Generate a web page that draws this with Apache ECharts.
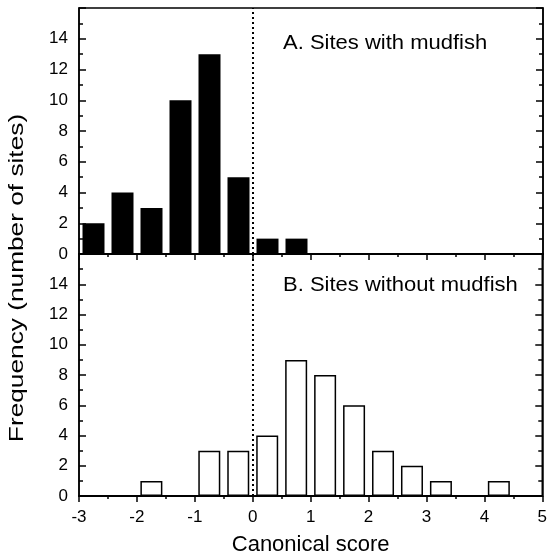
<!DOCTYPE html>
<html>
<head>
<meta charset="utf-8">
<script src="https://cdn.jsdelivr.net/npm/echarts@6/dist/echarts.min.js"></script>
<style>html,body{margin:0;padding:0;background:#fff;}#c{width:550px;height:557px;}</style>
</head>
<body>
<div id="c"></div>
<script>
const topCenters = [-2.75, -2.25, -1.75, -1.25, -0.75, -0.25, 0.25, 0.75];
const topValues = [2, 4, 3, 10, 13, 5, 1, 1];
const botCenters = [-1.75, -0.75, -0.25, 0.25, 0.75, 1.25, 1.75, 2.25, 2.75, 3.25, 4.25];
const botValues = [1, 3, 3, 4, 9, 8, 6, 3, 2, 1, 1];
const yTicks = [0, 2, 4, 6, 8, 10, 12, 14];
const xTicks = [-3, -2, -1, 0, 1, 2, 3, 4, 5];
const panelA = 'A. Sites with mudfish';
const panelB = 'B. Sites without mudfish';
const yTitle = 'Frequency (number of sites)';
const xTitle = 'Canonical score';

const FONT = "'Liberation Sans', Arial, Helvetica, sans-serif";
const chart = echarts.init(document.getElementById('c'));

function xAx(gi, withLabels) {
  return {
    type: 'value', gridIndex: gi, min: -3, max: 5, interval: 1, position: 'bottom',
    axisLine: { show: true, onZero: false, lineStyle: { color: '#000', width: 2 } },
    axisTick: { show: true, inside: false, length: 6, lineStyle: { color: '#000', width: 1.5 } },
    minorTick: { show: true, splitNumber: 2, length: 3, lineStyle: { color: '#000', width: 1.5 } },
    splitLine: { show: false },
    axisLabel: { show: withLabels, color: '#000', fontSize: 17, fontFamily: FONT, margin: 13,
      formatter: v => xTicks.includes(v) ? String(v) : '' },
    name: withLabels ? xTitle : '', nameLocation: 'middle', nameGap: 38,
    nameTextStyle: { color: '#000', fontSize: 22, fontFamily: FONT }
  };
}
function yAx(gi, pos, withLabels) {
  return {
    type: 'value', gridIndex: gi, min: 0, max: 16, interval: 2, position: pos,
    axisLine: { show: true, onZero: false, lineStyle: { color: '#000', width: 1.5 } },
    axisTick: { show: true, inside: true, length: 7, lineStyle: { color: '#000', width: 1.5 } },
    minorTick: { show: true, splitNumber: 2, length: 4, lineStyle: { color: '#000', width: 1.5 } },
    splitLine: { show: false },
    axisLabel: { show: withLabels, color: '#000', fontSize: 17, fontFamily: FONT, margin: 11,
      formatter: v => yTicks.includes(v) ? String(v) : '' }
  };
}
const dotted = {
  silent: true, symbol: 'none', label: { show: false },
  lineStyle: { color: '#000', type: [2, 3], width: 2 },
  data: [{ xAxis: 0 }]
};

chart.setOption({
  animation: false,
  backgroundColor: '#fff',
  grid: [
    { left: 79, right: 7, top: 8, height: 246, show: true, borderColor: '#000', borderWidth: 1.5 },
    { left: 79, right: 7, top: 254, height: 244, show: true, borderColor: '#000', borderWidth: 1.5 }
  ],
  xAxis: [xAx(0, false), xAx(1, true)],
  yAxis: [yAx(0, 'left', true), yAx(1, 'left', true), yAx(0, 'right', false), yAx(1, 'right', false)],
  series: [
    { type: 'bar', xAxisIndex: 0, yAxisIndex: 0, barWidth: 22,
      data: topCenters.map((c, i) => [c, topValues[i]]),
      itemStyle: { color: '#000' }, markLine: dotted },
    { type: 'bar', xAxisIndex: 1, yAxisIndex: 1, barWidth: 22,
      data: botCenters.map((c, i) => [c, botValues[i]]),
      itemStyle: { color: '#fff', borderColor: '#000', borderWidth: 1.5 }, markLine: dotted }
  ],
  graphic: [
    { type: 'text', x: 283, y: 33, scaleX: 1.1,
      style: { text: panelA, fill: '#000', font: '20px ' + FONT, verticalAlign: 'top' } },
    { type: 'text', x: 283, y: 275, scaleX: 1.1,
      style: { text: panelB, fill: '#000', font: '20px ' + FONT, verticalAlign: 'top' } },
    { type: 'text', x: 7, y: 278, rotation: Math.PI / 2, scaleX: 1.25,
      style: { text: yTitle, fill: '#000', font: '21px ' + FONT, align: 'center', verticalAlign: 'top' } }
  ]
});
</script>
</body>
</html>
